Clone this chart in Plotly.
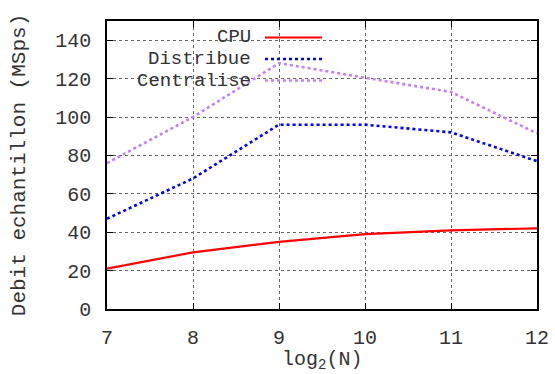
import plotly.graph_objects as go

x_vals = [7, 8, 9, 10, 11, 12]
cpu = [21, 29.5, 35, 39, 41, 42]
distribue = [47, 68, 96, 96, 92, 77]
centralise = [76, 100, 128, 120.5, 113, 91.5]
names = ["CPU", "Distribue", "Centralise"]
colors = ["#ff0000", "#0000ff", "#c080ff"]
dashes = ["solid", "dot", "dot"]
widths = [2.2, 2.6, 2.6]
x_title = "log<sub>2</sub>(N)"
y_title = "Debit echantillon (MSps)"

FONT = "Liberation Mono, DejaVu Sans Mono, monospace"
FS = 20
TXT = "#333"

fig = go.Figure()
for name, ys, c, d, w in zip(names, [cpu, distribue, centralise], colors, dashes, widths):
    fig.add_trace(go.Scatter(x=x_vals, y=ys, mode="lines", name=name,
                             line=dict(color=c, dash=d, width=w), showlegend=False))

# gnuplot-style legend (text right-aligned, sample to the right)
W, H = 555, 374
L, R, T, B = 107, 18, 21, 65
pw, ph = W - L - R, H - T - B
def px(xp):
    return (xp - L) / pw
def py(yp):
    return 1 - (yp - T) / ph
leg_y = [37.5, 59, 80.5]
for name, c, d, w, yy in zip(names, colors, dashes, widths, leg_y):
    fig.add_annotation(x=px(252), y=py(yy), xref="paper", yref="paper", text=name,
                       showarrow=False, xanchor="right", yanchor="middle", borderpad=0,
                       font=dict(family=FONT, size=19, color=TXT))
    fig.add_shape(type="line", xref="paper", yref="paper",
                  x0=px(265), x1=px(322), y0=py(yy), y1=py(yy),
                  line=dict(color=c, dash=d, width=w))

# x-axis title placed like gnuplot's
fig.add_annotation(x=0.5, y=0, xref="paper", yref="paper", text=x_title,
                   showarrow=False, xanchor="center", yanchor="bottom", yshift=-(374 - 21 - 288) ,
                   borderpad=0, font=dict(family=FONT, size=20, color=TXT))

axis_common = dict(showline=True, linecolor="black", linewidth=1.5, mirror="allticks",
                   ticks="inside", ticklen=6, tickcolor="black", tickwidth=1,
                   showgrid=True, gridcolor="#666", griddash="dot", gridwidth=1,
                   zeroline=False, automargin=False,
                   tickfont=dict(family=FONT, size=FS, color=TXT))

fig.update_layout(
    width=W, height=H,
    margin=dict(l=L, r=R, t=T, b=B),
    paper_bgcolor="white", plot_bgcolor="white",
    xaxis=dict(range=[7, 12], tickvals=x_vals, ticklabelstandoff=9, **axis_common),
    yaxis=dict(range=[0, 150], tickvals=list(range(0, 141, 20)), ticklabelstandoff=10, **axis_common,
               title=dict(text=y_title, font=dict(family=FONT, size=21, color=TXT), standoff=24)),
)

fig.write_html("out.html")
